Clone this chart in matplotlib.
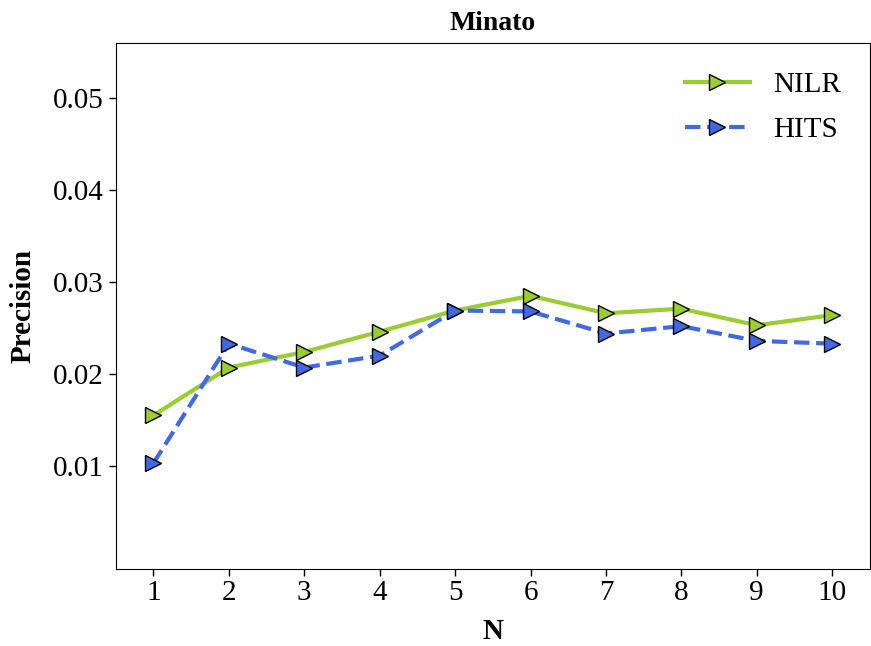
import matplotlib
matplotlib.use("Agg")
import matplotlib.pyplot as plt

plt.rcParams["font.family"] = ["Liberation Serif", "DejaVu Serif"]

n_values = [1, 2, 3, 4, 5, 6, 7, 8, 9, 10]
nilr = [0.0155, 0.0207, 0.0224, 0.0246, 0.0269, 0.0285, 0.0266, 0.0271, 0.0253, 0.0264]
hits = [0.0103, 0.0233, 0.0207, 0.0220, 0.0269, 0.0268, 0.0244, 0.0252, 0.0236, 0.0233]
y_ticks = [0.01, 0.02, 0.03, 0.04, 0.05]

fig = plt.figure(figsize=(8.71, 6.46), dpi=100)
ax = fig.add_axes([0.1328, 0.1197, 0.866, 0.8142])

ax.plot(n_values, nilr, color="#9acd32", lw=3, ls="-", marker=">",
        ms=12, mfc="#9acd32", mec="black", mew=1, label="NILR")
ax.plot(n_values, hits, color="#4169e1", lw=3, ls="--", marker=">",
        ms=12, mfc="#4169e1", mec="black", mew=1, label="HITS")

ax.set_xlim(0.5, 10.5)
ax.set_ylim(-0.00115, 0.056)
ax.set_xticks(n_values)
ax.set_yticks(y_ticks)
ax.set_yticklabels([f"{v:.2f}" for v in y_ticks])
ax.tick_params(labelsize=21, length=5, width=1)

ax.set_xlabel("N", fontsize=21, fontweight="bold", labelpad=8)
ax.set_ylabel("Precision", fontsize=21, fontweight="bold", labelpad=12)
ax.set_title("Minato", fontsize=20, fontweight="bold", pad=9)

ax.legend(loc="upper right", frameon=False, fontsize=21,
          handlelength=2.2, labelspacing=0.62, borderaxespad=0.6)

fig.savefig("out.png", dpi=100)
